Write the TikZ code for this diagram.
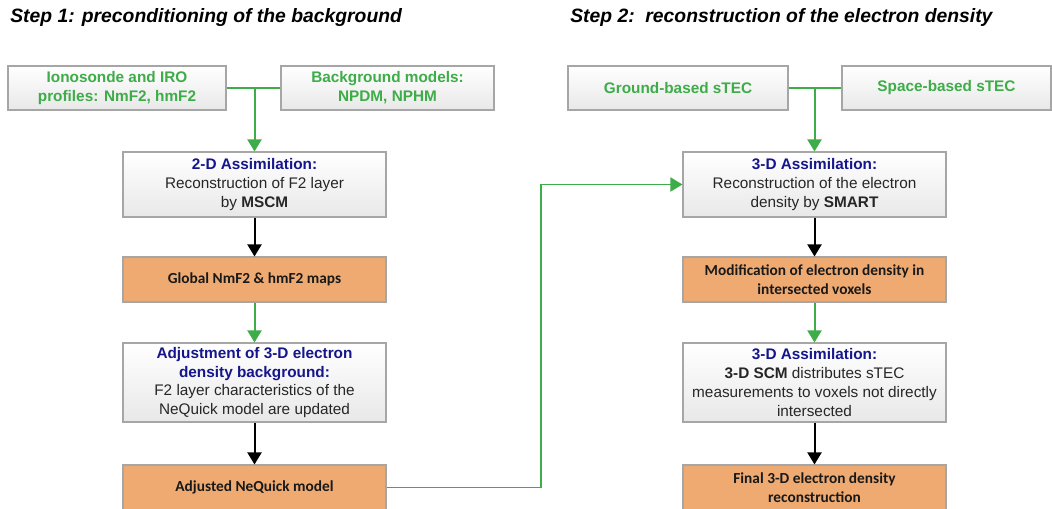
\documentclass[tikz,border=0pt]{standalone}
\usepackage{fontspec}
\setmainfont{Liberation Sans}
\newfontfamily\calib{Carlito}
\usetikzlibrary{arrows.meta,positioning}
\definecolor{grn}{RGB}{62,172,72}
\definecolor{navy}{RGB}{22,22,140}
\definecolor{org}{RGB}{239,170,114}
\definecolor{bord}{RGB}{166,166,166}
\definecolor{txt}{RGB}{38,38,38}
\tikzset{
  wbox/.style={draw=bord, line width=0.8pt, top color=white, bottom color=black!9,
    align=center, inner sep=0pt, font=\fontsize{11.5}{14.2}\selectfont, text=txt},
  obox/.style={draw=bord, line width=0.8pt, fill=org, align=center, inner sep=0pt,
    font=\calib\bfseries\fontsize{11.5}{13.8}\selectfont, text=black!90},
  gtxt/.style={text=grn, font=\bfseries\fontsize{11.5}{14.2}\selectfont},
  gline/.style={draw=grn, line width=1.5pt},
  tip/.style={-{Triangle[width=10.5pt,length=9pt]}},
  garrow/.style={gline, tip},
  barrow/.style={draw=black, line width=1.5pt, tip},
  ttl/.style={anchor=base west, inner sep=0pt, font=\bfseries\itshape\fontsize{14.5}{17}\selectfont}
}
\newcommand{\hd}[1]{\textcolor{navy}{\textbf{#1}}}
\begin{document}
\begin{tikzpicture}[x=0.75pt,y=-0.75pt]
\useasboundingbox (0,0) rectangle (1052,508);
% titles
\node[ttl] (t1) at (10,22.5) {Step 1: preconditioning of the background};
\node[ttl] (t2) at (570,22.5) {Step 2:\ \ reconstruction of the electron density};
% left column
\node[wbox, gtxt, minimum width=218*0.75pt, minimum height=44*0.75pt] (A) at (117,88)
  {Ionosonde and IRO\\profiles: NmF2, hmF2};
\node[wbox, gtxt, minimum width=213*0.75pt, minimum height=44*0.75pt] (B) at (387.5,88)
  {Background models:\\NPDM, NPHM};
\node[wbox, minimum width=263*0.75pt, minimum height=65*0.75pt] (C) at (254.5,184.5)
  {\hd{2-D Assimilation:}\\Reconstruction of F2 layer\\by \textbf{MSCM}};
\node[obox, minimum width=263*0.75pt, minimum height=45*0.75pt] (D) at (254.5,279.5)
  {Global NmF2 \& hmF2 maps};
\node[wbox, minimum width=263*0.75pt, minimum height=79*0.75pt] (E) at (254.5,382.5)
  {\hd{Adjustment of 3-D electron}\\\hd{density background:}\\F2 layer characteristics of the\\NeQuick model are updated};
\node[obox, minimum width=263*0.75pt, minimum height=45*0.75pt] (F) at (254.5,487.5)
  {Adjusted NeQuick model};
% right column
\node[wbox, gtxt, minimum width=220*0.75pt, minimum height=44*0.75pt] (H) at (678,88)
  {Ground-based sTEC};
\node[wbox, gtxt, minimum width=209*0.75pt, minimum height=44*0.75pt] (I) at (946.5,88)
  {Space-based sTEC};
\node[wbox, minimum width=263*0.75pt, minimum height=65*0.75pt] (G) at (814.5,184.5)
  {\hd{3-D Assimilation:}\\Reconstruction of the electron\\density by \textbf{SMART}};
\node[obox, minimum width=263*0.75pt, minimum height=45*0.75pt] (J) at (814.5,279.5)
  {Modification of electron density in\\intersected voxels};
\node[wbox, minimum width=263*0.75pt, minimum height=79*0.75pt] (K) at (814.5,382.5)
  {\hd{3-D Assimilation:}\\\textbf{3-D SCM} distributes sTEC\\measurements to voxels not directly\\intersected};
\node[obox, minimum width=263*0.75pt, minimum height=45*0.75pt] (L) at (814.5,487.5)
  {Final 3-D electron density\\reconstruction};
% connectors left
\coordinate (j1) at (254.5,88);
\draw[gline] (A.east) -- (B.west);
\draw[garrow] (j1) -- (C.north);
\draw[barrow] (C.south) -- (D.north);
\draw[garrow] (D.south) -- (E.north);
\draw[barrow] (E.south) -- (F.north);
% connectors right
\coordinate (j2) at (814.5,88);
\draw[gline] (H.east) -- (I.west);
\draw[garrow] (j2) -- (G.north);
\draw[barrow] (G.south) -- (J.north);
\draw[garrow] (J.south) -- (K.north);
\draw[barrow] (K.south) -- (L.north);
% cross connector
\coordinate (k1) at (541,487.5);
\coordinate (k2) at (541,184.5);
\draw[gline, line width=1.4pt, tip] (F.east) -- (k1) -- (k2) -- (G.west);
\end{tikzpicture}
\end{document}
